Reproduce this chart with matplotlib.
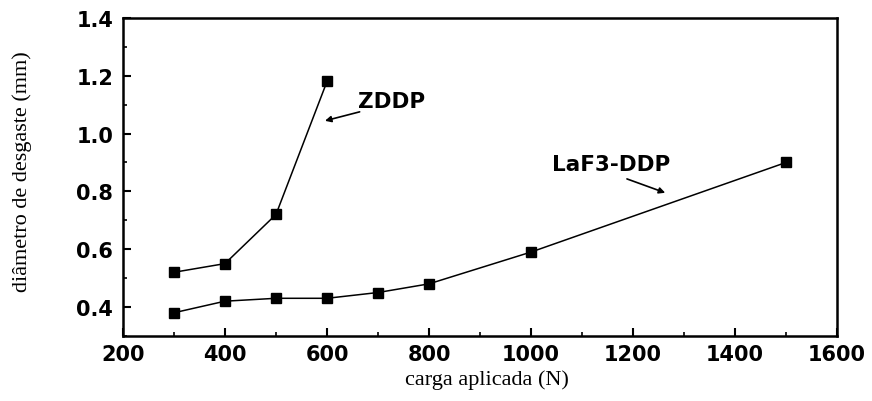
import matplotlib
matplotlib.use("Agg")
import matplotlib.pyplot as plt
from matplotlib.ticker import MultipleLocator

# wear scar diameter vs applied load
carga_zddp = [300, 400, 500, 600]
diam_zddp = [0.52, 0.55, 0.72, 1.18]

carga_laf3 = [300, 400, 500, 600, 700, 800, 1000, 1500]
diam_laf3 = [0.38, 0.42, 0.43, 0.43, 0.45, 0.48, 0.59, 0.90]

x_ticks = [200, 400, 600, 800, 1000, 1200, 1400, 1600]
y_ticks = [0.4, 0.6, 0.8, 1.0, 1.2, 1.4]

tick_font = {"family": "DejaVu Sans", "weight": "bold", "size": 15}
label_font = {"family": "Liberation Serif", "size": 16}

fig = plt.figure(figsize=(8.72, 4.02), dpi=100)
ax = fig.add_axes([0.141, 0.162, 0.819, 0.791])

ax.plot(carga_zddp, diam_zddp, color="black", lw=1.1, marker="s", ms=7.5)
ax.plot(carga_laf3, diam_laf3, color="black", lw=1.1, marker="s", ms=7.5)

ax.set_xlim(200, 1600)
ax.set_ylim(0.3, 1.4)
ax.set_xticks(x_ticks)
ax.set_yticks(y_ticks)
ax.set_xticklabels([str(v) for v in x_ticks], fontdict=tick_font)
ax.set_yticklabels([f"{v:.1f}" for v in y_ticks], fontdict=tick_font)
ax.xaxis.set_minor_locator(MultipleLocator(100))
ax.yaxis.set_minor_locator(MultipleLocator(0.1))
ax.tick_params(which="major", direction="in", length=6, width=1.5,
               top=False, right=False)
ax.tick_params(axis="x", which="major", pad=6)
ax.tick_params(axis="y", which="major", pad=7)
ax.tick_params(which="minor", direction="in", length=3, width=1.2,
               top=False, right=False)
for sp in ax.spines.values():
    sp.set_linewidth(1.8)

ax.set_xlabel("carga aplicada (N)", fontdict=label_font)
ax.set_ylabel("diâmetro de desgaste (mm)", fontdict=label_font)
ax.xaxis.set_label_coords(0.509, -0.135)
ax.yaxis.set_label_coords(-0.141, 0.52)
ax.xaxis.label.set_va("center")
ax.yaxis.label.set_va("center")

arrow = dict(arrowstyle="-|>", color="black", lw=1.2, mutation_scale=9,
             shrinkA=0, shrinkB=0)
ax.text(660, 1.113, "ZDDP", fontfamily="DejaVu Sans", fontweight="bold",
        fontsize=15.5, va="center", ha="left")
ax.annotate("", xy=(596, 1.044), xytext=(664, 1.075), arrowprops=arrow)
ax.text(1041, 0.895, "LaF3-DDP", fontfamily="DejaVu Sans", fontweight="bold",
        fontsize=15.5, va="center", ha="left")
ax.annotate("", xy=(1263, 0.795), xytext=(1188, 0.843), arrowprops=arrow)

fig.savefig("out.png", dpi=100)
